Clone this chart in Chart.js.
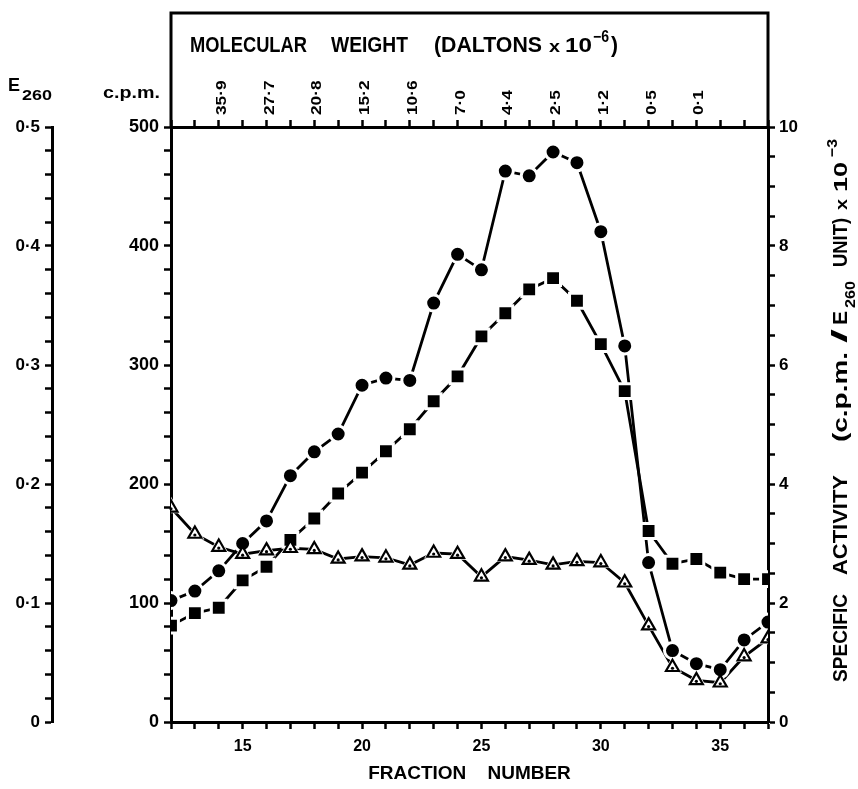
<!DOCTYPE html>
<html>
<head>
<meta charset="utf-8">
<script src="https://cdn.jsdelivr.net/npm/chart.js@4.4.1/dist/chart.umd.min.js"></script>
<style>
  body { margin: 0; background: #fff; }
  canvas { display: block; }
</style>
</head>
<body>
<canvas id="chart" width="858" height="789"></canvas>
<script>
// --- data ---
const fractions = [12, 13, 14, 15, 16, 17, 18, 19, 20, 21, 22, 23, 24, 25, 26, 27, 28, 29, 30, 31, 32, 33, 34, 35, 36, 37];
// c.p.m. (filled circles)
const cpmValues = [102, 110, 127, 150, 169, 207, 227, 242, 283, 289, 287, 352, 393, 380, 463, 459, 479, 470, 412, 316, 134, 60, 49, 44, 69, 84];
// specific activity x 10^-3 (filled squares)
const specActivity = [1.62, 1.83, 1.92, 2.38, 2.61, 3.06, 3.42, 3.84, 4.19, 4.55, 4.92, 5.39, 5.81, 6.48, 6.87, 7.27, 7.46, 7.08, 6.35, 5.56, 3.21, 2.66, 2.74, 2.51, 2.40, 2.40];
// E260 (open triangles)
const e260Values = [0.180, 0.158, 0.147, 0.141, 0.144, 0.146, 0.145, 0.137, 0.139, 0.138, 0.132, 0.142, 0.141, 0.122, 0.139, 0.136, 0.132, 0.135, 0.134, 0.117, 0.081, 0.046, 0.035, 0.033, 0.055, 0.070];

const fractionTicks = [15, 20, 25, 30, 35];
const mwFractions = [14, 16, 18, 20, 22, 24, 26, 28, 30, 32, 34];
const mwLabels = ['35\u00B79', '27\u00B77', '20\u00B78', '15\u00B72', '10\u00B76', '7\u00B70', '4\u00B74', '2\u00B75', '1\u00B72', '0\u00B75', '0\u00B71'];

const FONT = '"Liberation Sans", Arial, sans-serif';
const pts = arr => fractions.map((f, i) => ({ x: f, y: arr[i] }));
const bold = s => 'bold ' + s + 'px ' + FONT;

// draws text squeezed or stretched horizontally to a given length
// (a negative len means "stretch by this factor" instead)
function fitText(ctx, text, size, x, y, len, rotate, dy) {
  ctx.save();
  ctx.translate(x, y);
  if (rotate) ctx.rotate(-Math.PI / 2);
  ctx.font = bold(size);
  ctx.textAlign = 'left';
  ctx.textBaseline = 'alphabetic';
  const w = ctx.measureText(text).width;
  ctx.scale(len < 0 ? -len : len / w, 1);
  ctx.fillText(text, 0, dy || 0);
  ctx.restore();
}

const decorations = {
  id: 'decorations',
  afterDatasetsDraw(chart) {
    // small dot inside each triangle
    const ctx = chart.ctx;
    const meta = chart.getDatasetMeta(6);
    ctx.save();
    ctx.fillStyle = '#000';
    meta.data.forEach(p => {
      ctx.beginPath();
      ctx.arc(p.x, p.y + 1, 1.6, 0, Math.PI * 2);
      ctx.fill();
    });
    ctx.restore();
  },
  afterDraw(chart) {
    const ctx = chart.ctx;
    const { left, right, top } = chart.chartArea;
    const x2 = chart.scales.x2;
    ctx.save();
    ctx.strokeStyle = '#000';
    ctx.lineWidth = 3;
    ctx.beginPath();
    ctx.moveTo(left, top);
    ctx.lineTo(left, x2.top);
    ctx.lineTo(right, x2.top);
    ctx.lineTo(right, top);
    ctx.stroke();
    ctx.fillStyle = '#000';

    // molecular weight labels on the top scale
    mwFractions.forEach((f, i) => {
      fitText(ctx, mwLabels[i], 15, x2.getPixelForValue(f) + 7, 115, -1.15, true);
    });

    // top title
    fitText(ctx, 'MOLECULAR', 22, 190, 52, 117);
    fitText(ctx, 'WEIGHT', 22, 331, 52, 77);
    fitText(ctx, '(DALTONS', 22, 434, 52, 108);
    fitText(ctx, 'x', 16, 549, 52, 11);
    fitText(ctx, '10', 21, 565, 52, 27);
    fitText(ctx, '\u22126', 16, 593, 42, 16);
    fitText(ctx, ')', 22, 611, 52, 7);

    // left axis captions
    fitText(ctx, 'E', 19, 8, 91, 12);
    fitText(ctx, '260', 15, 22, 100, 30);
    fitText(ctx, 'c.p.m.', 17, 103, 98, 57);

    // right axis caption, reading upwards
    fitText(ctx, 'SPECIFIC', 20, 847, 682, 88, true);
    fitText(ctx, 'ACTIVITY', 20, 847, 575, 100, true);
    fitText(ctx, '(c.p.m.', 21, 847, 442, 90, true);
    fitText(ctx, '/', 22, 847, 343, 14, true);
    fitText(ctx, 'E', 21, 847, 325, 14, true);
    fitText(ctx, '260', 14, 847, 308, 27, true, 8);
    fitText(ctx, 'UNIT)', 20, 847, 267, 49, true);
    fitText(ctx, 'x', 16, 847, 210, 11, true);
    fitText(ctx, '10', 19, 847, 192, 30, true);
    fitText(ctx, '\u22123', 15, 847, 157, 18, true, -10);
    ctx.restore();
  }
};

const tickGrid = { display: true, drawOnChartArea: false, drawTicks: true, tickLength: 7, tickWidth: 2.5, tickColor: '#000', color: '#000' };
const axisBorder = { display: true, color: '#000', width: 3 };

new Chart(document.getElementById('chart'), {
  type: 'line',
  data: {
    datasets: [
      { data: pts(cpmValues), yAxisID: 'y', borderColor: '#000', borderWidth: 2.8, pointRadius: 0, order: 10 },
      { data: pts(specActivity), yAxisID: 'y2', borderColor: '#000', borderWidth: 2.8, pointRadius: 0, order: 10 },
      { data: pts(e260Values), yAxisID: 'yE', borderColor: '#000', borderWidth: 2.8, pointRadius: 0, order: 10 },
      { data: pts(e260Values), yAxisID: 'yE', showLine: false, pointStyle: 'triangle', pointRadius: 11, pointBackgroundColor: '#fff', pointBorderWidth: 0, order: 3 },
      { data: pts(cpmValues), yAxisID: 'y', showLine: false, pointStyle: 'circle', pointRadius: 8, pointBackgroundColor: '#000', pointBorderColor: '#fff', pointBorderWidth: 3, order: 2 },
      { data: pts(specActivity), yAxisID: 'y2', showLine: false, pointStyle: 'rect', pointRadius: 10.5, pointBackgroundColor: '#000', pointBorderColor: '#fff', pointBorderWidth: 3, order: 1 },
      { data: pts(e260Values), yAxisID: 'yE', showLine: false, pointStyle: 'triangle', pointRadius: 7.5, pointBackgroundColor: '#fff', pointBorderColor: '#000', pointBorderWidth: 2.2, order: 0 }
    ]
  },
  options: {
    responsive: false,
    animation: false,
    layout: { padding: { top: 13, left: 0, right: 0, bottom: 0 } },
    plugins: { legend: { display: false }, tooltip: { enabled: false } },
    scales: {
      x: {
        type: 'linear', position: 'bottom', min: 12, max: 37,
        grid: tickGrid, border: axisBorder,
        afterFit: s => { s.height = 67; },
        ticks: {
          stepSize: 1, autoSkip: false, maxRotation: 0, padding: 8, color: '#000',
          font: { family: FONT, size: 16, weight: 'bold' },
          callback: v => fractionTicks.includes(v) ? String(v) : ''
        },
        title: { display: true, text: 'FRACTION    NUMBER', color: '#000', font: { family: FONT, size: 19, weight: 'bold' }, padding: { top: 0, bottom: 4 } }
      },
      x2: {
        type: 'linear', position: 'top', min: 12, max: 37,
        grid: tickGrid, border: axisBorder,
        afterFit: s => { s.height = 114; },
        ticks: { stepSize: 1, autoSkip: false, maxRotation: 0, callback: () => '' }
      },
      yE: {
        position: 'left', min: 0, max: 0.5, weight: 1,
        grid: tickGrid, border: axisBorder,
        afterFit: s => { s.width = 52; },
        ticks: {
          stepSize: 0.02, autoSkip: false, padding: 5, color: '#000',
          font: { family: FONT, size: 17, weight: 'bold' },
          callback: v => {
            const t = Math.round(v * 100);
            if (t % 10 !== 0) return '';
            return t === 0 ? '0' : '0\u00B7' + (t / 10);
          }
        }
      },
      y: {
        position: 'left', min: 0, max: 500, weight: 0,
        grid: tickGrid, border: axisBorder,
        afterFit: s => { s.width = 119; },
        ticks: {
          stepSize: 20, autoSkip: false, padding: 5, color: '#000',
          font: { family: FONT, size: 18, weight: 'bold' },
          callback: v => v % 100 === 0 ? String(v) : ''
        }
      },
      y2: {
        position: 'right', min: 0, max: 10,
        grid: tickGrid, border: axisBorder,
        afterFit: s => { s.width = 90; },
        ticks: {
          stepSize: 0.5, autoSkip: false, padding: 4, color: '#000',
          font: { family: FONT, size: 17, weight: 'bold' },
          callback: v => v % 2 === 0 ? String(v) : ''
        }
      }
    }
  },
  plugins: [decorations]
});
</script>
</body>
</html>
